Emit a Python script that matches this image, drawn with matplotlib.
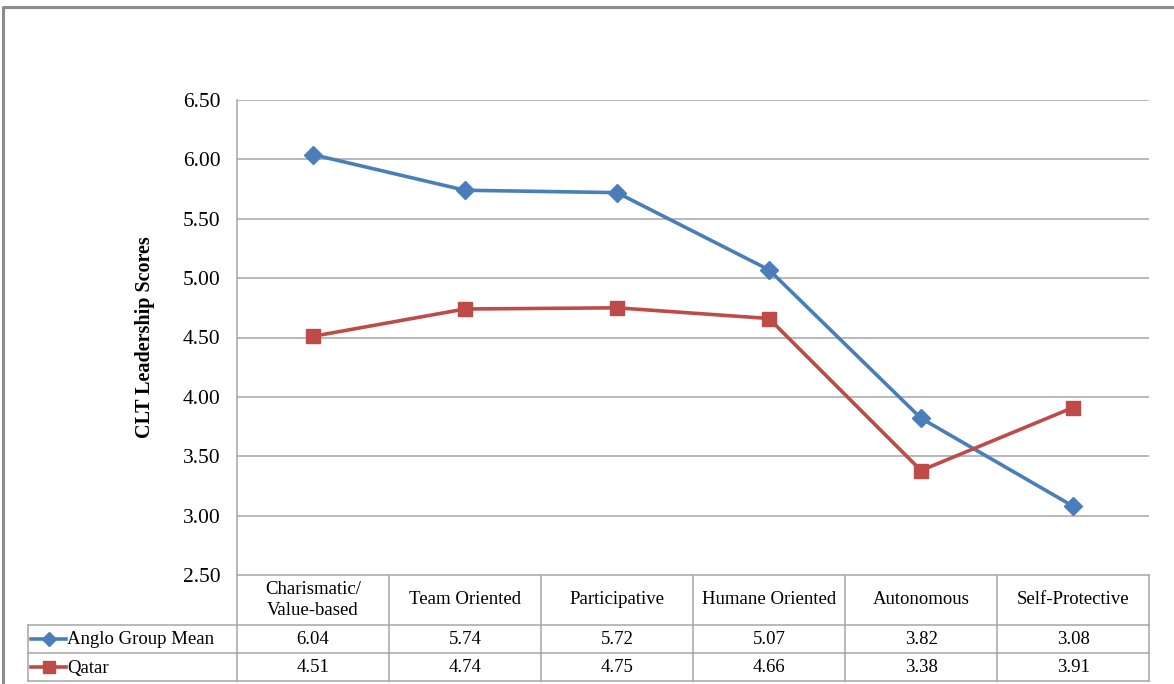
import matplotlib.pyplot as plt
from matplotlib.lines import Line2D

categories = ["Charismatic/\nValue-based", "Team Oriented", "Participative",
              "Humane Oriented", "Autonomous", "Self-Protective"]
anglo = [6.04, 5.74, 5.72, 5.07, 3.82, 3.08]
qatar = [4.51, 4.74, 4.75, 4.66, 3.38, 3.91]
series_names = ["Anglo Group Mean", "Qatar"]
yticks = [2.50, 3.00, 3.50, 4.00, 4.50, 5.00, 5.50, 6.00, 6.50]

blue = "#4A7EBB"
red = "#BE4B48"
grid_c = "#A6A6A6"
plt.rcParams["font.family"] = ["Liberation Serif", "DejaVu Serif"]

W, H = 1174, 684
fig = plt.figure(figsize=(W / 100, H / 100), dpi=100)

# pixel layout of the plot area
px_left, px_right, px_top, px_bottom = 237, 1149, 100, 575
ax = fig.add_axes([px_left / W, 1 - px_bottom / H,
                   (px_right - px_left) / W, (px_bottom - px_top) / H])

x = list(range(len(categories)))
ax.plot(x, anglo, color=blue, lw=2.6, marker="D", ms=9.5, label=series_names[0])
ax.plot(x, qatar, color=red, lw=2.6, marker="s", ms=10.5, label=series_names[1])

ax.set_xlim(-0.5, len(categories) - 0.5)
ax.set_ylim(2.5, 6.5)
ax.set_yticks(yticks)
ax.set_yticklabels([f"{v:.2f}" for v in yticks], fontsize=15.5)
ax.set_xticks([])
ax.tick_params(axis="y", length=0, pad=12)
ax.yaxis.grid(True, color=grid_c, lw=1.1)
ax.set_axisbelow(True)
for s in ["top", "right", "bottom"]:
    ax.spines[s].set_visible(False)
ax.spines["left"].set_color(grid_c)
ax.spines["left"].set_linewidth(1.1)
ax.set_ylabel("CLT Leadership Scores", fontsize=14.5, fontweight="bold", labelpad=20)

# overlay in pixel coordinates for the data table and outer frame
ov = fig.add_axes([0, 0, 1, 1], zorder=-1)
ov.set_xlim(0, W)
ov.set_ylim(H, 0)
ov.axis("off")

# outer frame
ov.plot([3, 3, W], [H, 7, 7], color="#8C8C8C", lw=2.2)

tab_left = 28
rows_y = [px_bottom, 625, 653, 681]
col_w = (px_right - px_left) / len(categories)
lc = "#A6A6A6"

ov.plot([px_left, px_right], [rows_y[0], rows_y[0]], color=lc, lw=1.1)
for yy in rows_y[1:]:
    ov.plot([tab_left, px_right], [yy, yy], color=lc, lw=1.1)
ov.plot([tab_left, tab_left], [rows_y[1], rows_y[3]], color=lc, lw=1.1)
for i in range(len(categories) + 1):
    xx = px_left + i * col_w
    ov.plot([xx, xx], [rows_y[0], rows_y[3]], color=lc, lw=1.1)

for i, cat in enumerate(categories):
    cx = px_left + (i + 0.5) * col_w
    ov.text(cx, (rows_y[0] + rows_y[1]) / 2, cat, ha="center", va="center",
            fontsize=13.5, linespacing=1.3)
    ov.text(cx, (rows_y[1] + rows_y[2]) / 2 + 1, f"{anglo[i]:.2f}", ha="center",
            va="center", fontsize=13.5)
    ov.text(cx, (rows_y[2] + rows_y[3]) / 2 + 1, f"{qatar[i]:.2f}", ha="center",
            va="center", fontsize=13.5)

# legend keys inside the table
for j, (name, col, mk, ms) in enumerate([(series_names[0], blue, "D", 7),
                                          (series_names[1], red, "s", 9)]):
    cy = (rows_y[1 + j] + rows_y[2 + j]) / 2
    ov.add_line(Line2D([31, 66], [cy, cy], color=col, lw=2.6))
    ov.plot([48.5], [cy], marker=mk, color=col, ms=ms)
    ov.text(67, cy + 1, name, ha="left", va="center", fontsize=13.5)

fig.savefig("out.png", dpi=100)
